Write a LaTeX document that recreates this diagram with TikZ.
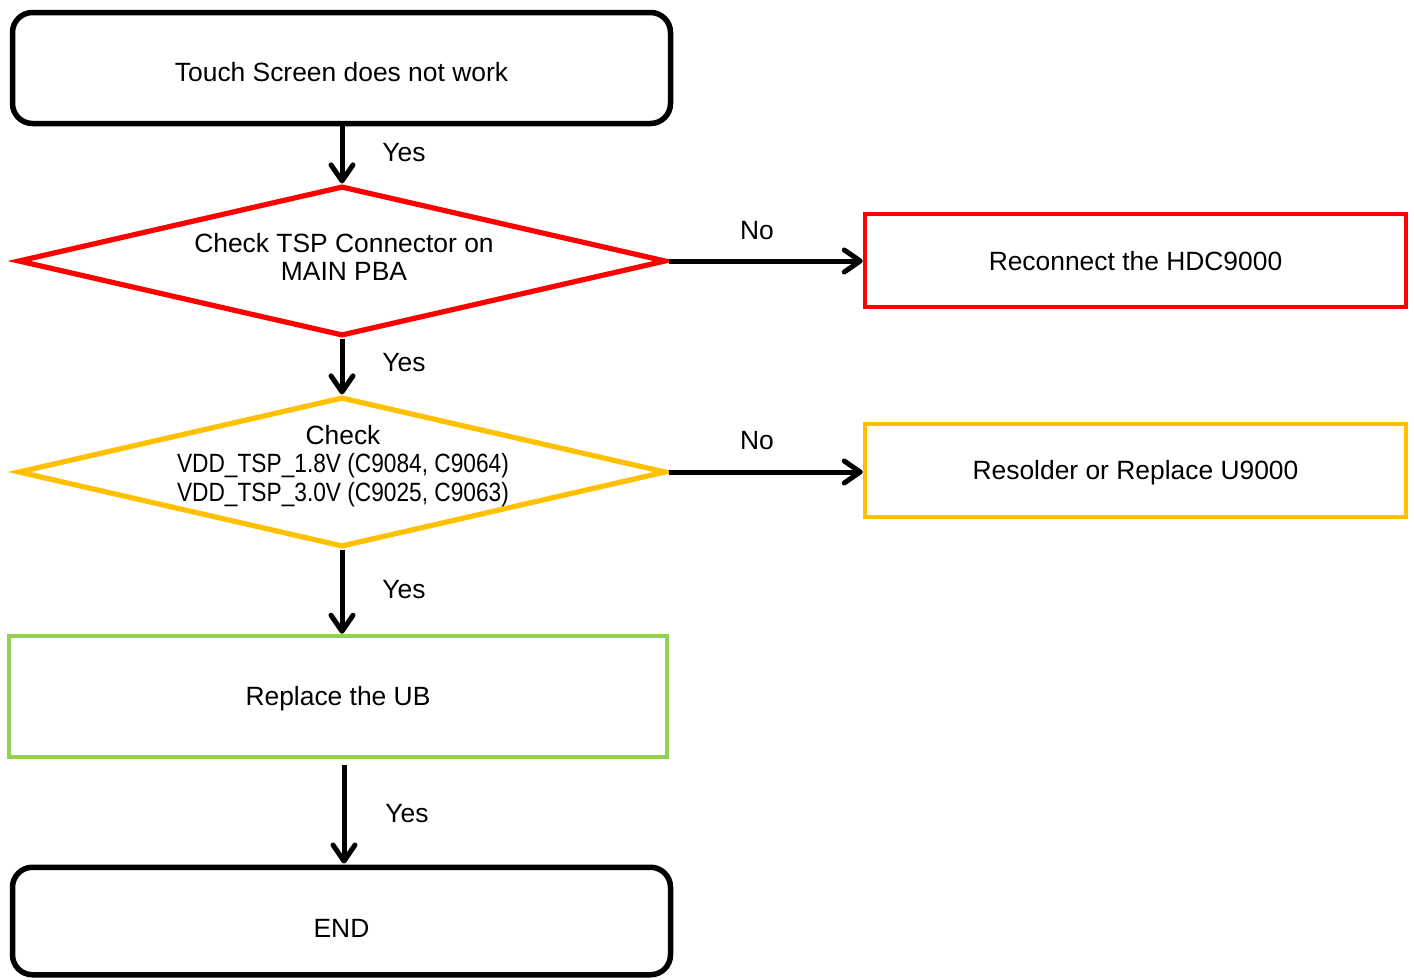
\documentclass[tikz,border=0pt]{standalone}
\usepackage{fontspec}
\setmainfont{Liberation Sans}
\newfontfamily\condfont{Liberation Sans}[FakeStretch=0.86]
\usetikzlibrary{shapes.geometric,arrows.meta}
\definecolor{ored}{HTML}{FF0000}
\definecolor{oyellow}{HTML}{FFC000}
\definecolor{ogreen}{HTML}{92D050}
\tikzset{
  every node/.style={font=\fontsize{26.4}{27.5}\selectfont},
  termbox/.style={draw=black, line width=5.5pt, rounded corners=20pt, minimum width=658pt, minimum height=111pt, inner sep=0pt},
  actbox/.style={draw, line width=4.5pt, minimum width=541pt, minimum height=93pt, inner sep=0pt},
  decbox/.style={diamond, draw, line width=5.2pt, minimum width=648pt, minimum height=150pt, inner sep=0pt, aspect=4.3},
  arr/.style={line width=5pt, -{Straight Barb[length=16pt,width=22pt,line cap=round,line join=round]}},
  lbl/.style={inner sep=0pt}
}
\begin{document}
\begin{tikzpicture}[x=1pt,y=-1pt]
\useasboundingbox (0,0) rectangle (1414,980);
\node[termbox] (start) at (341.5,68) {};
\node[lbl] (startt) at ([yshift=-4pt]start.center) {Touch Screen does not work};
\node[decbox, draw=ored] (d1) at (342,261) {};
\node[align=center, lbl] (d1t) at (344,257) {Check TSP Connector on\\MAIN PBA};
\node[actbox, draw=ored] (r1) at (1135.5,260.5) {};
\node[lbl] (r1t) at (1135.5,261.5) {Reconnect the HDC9000};
\node[decbox, draw=oyellow] (d2) at (342,472) {};
\node[align=center, lbl, font=\fontsize{26.4}{28.5}\selectfont] (d2t) at (343,466) {Check\\{\condfont VDD\_TSP\_1.8V (C9084, C9064)}\\{\condfont VDD\_TSP\_3.0V (C9025, C9063)}};
\node[actbox, draw=oyellow] (r2) at (1135.5,470.5) {};
\node[lbl] (r2t) at (1135.5,473) {Resolder or Replace U9000};
\node[actbox, draw=ogreen, minimum width=658pt, minimum height=121pt] (ub) at (338,696.5) {};
\node[lbl] (ubt) at (338,698.5) {Replace the UB};
\node[termbox, minimum height=107.5pt] (fin) at (341.5,921) {};
\node[lbl] (fint) at (341.5,928) {END};
\draw[arr] (start.south -| d1.north) -- (d1.north);
\draw[arr] (d1.south) -- (d2.north);
\draw[arr] (d2.south) -- (d2.south |- ub.north);
\draw[arr] ([xshift=6pt,yshift=-6pt]ub.south) -- ([xshift=2.5pt,yshift=1pt]fin.north);
\draw[arr] (d1.east) -- (r1.west |- d1.east);
\draw[arr] (d2.east) -- (r2.west |- d2.east);
\node[lbl] (y1) at (404,153) {Yes};
\node[lbl] (y2) at (404,363) {Yes};
\node[lbl] (y3) at (404,590) {Yes};
\node[lbl] (y4) at (407,814) {Yes};
\node[lbl] (n1) at (757,231) {No};
\node[lbl] (n2) at (757,441) {No};
\end{tikzpicture}
\end{document}
